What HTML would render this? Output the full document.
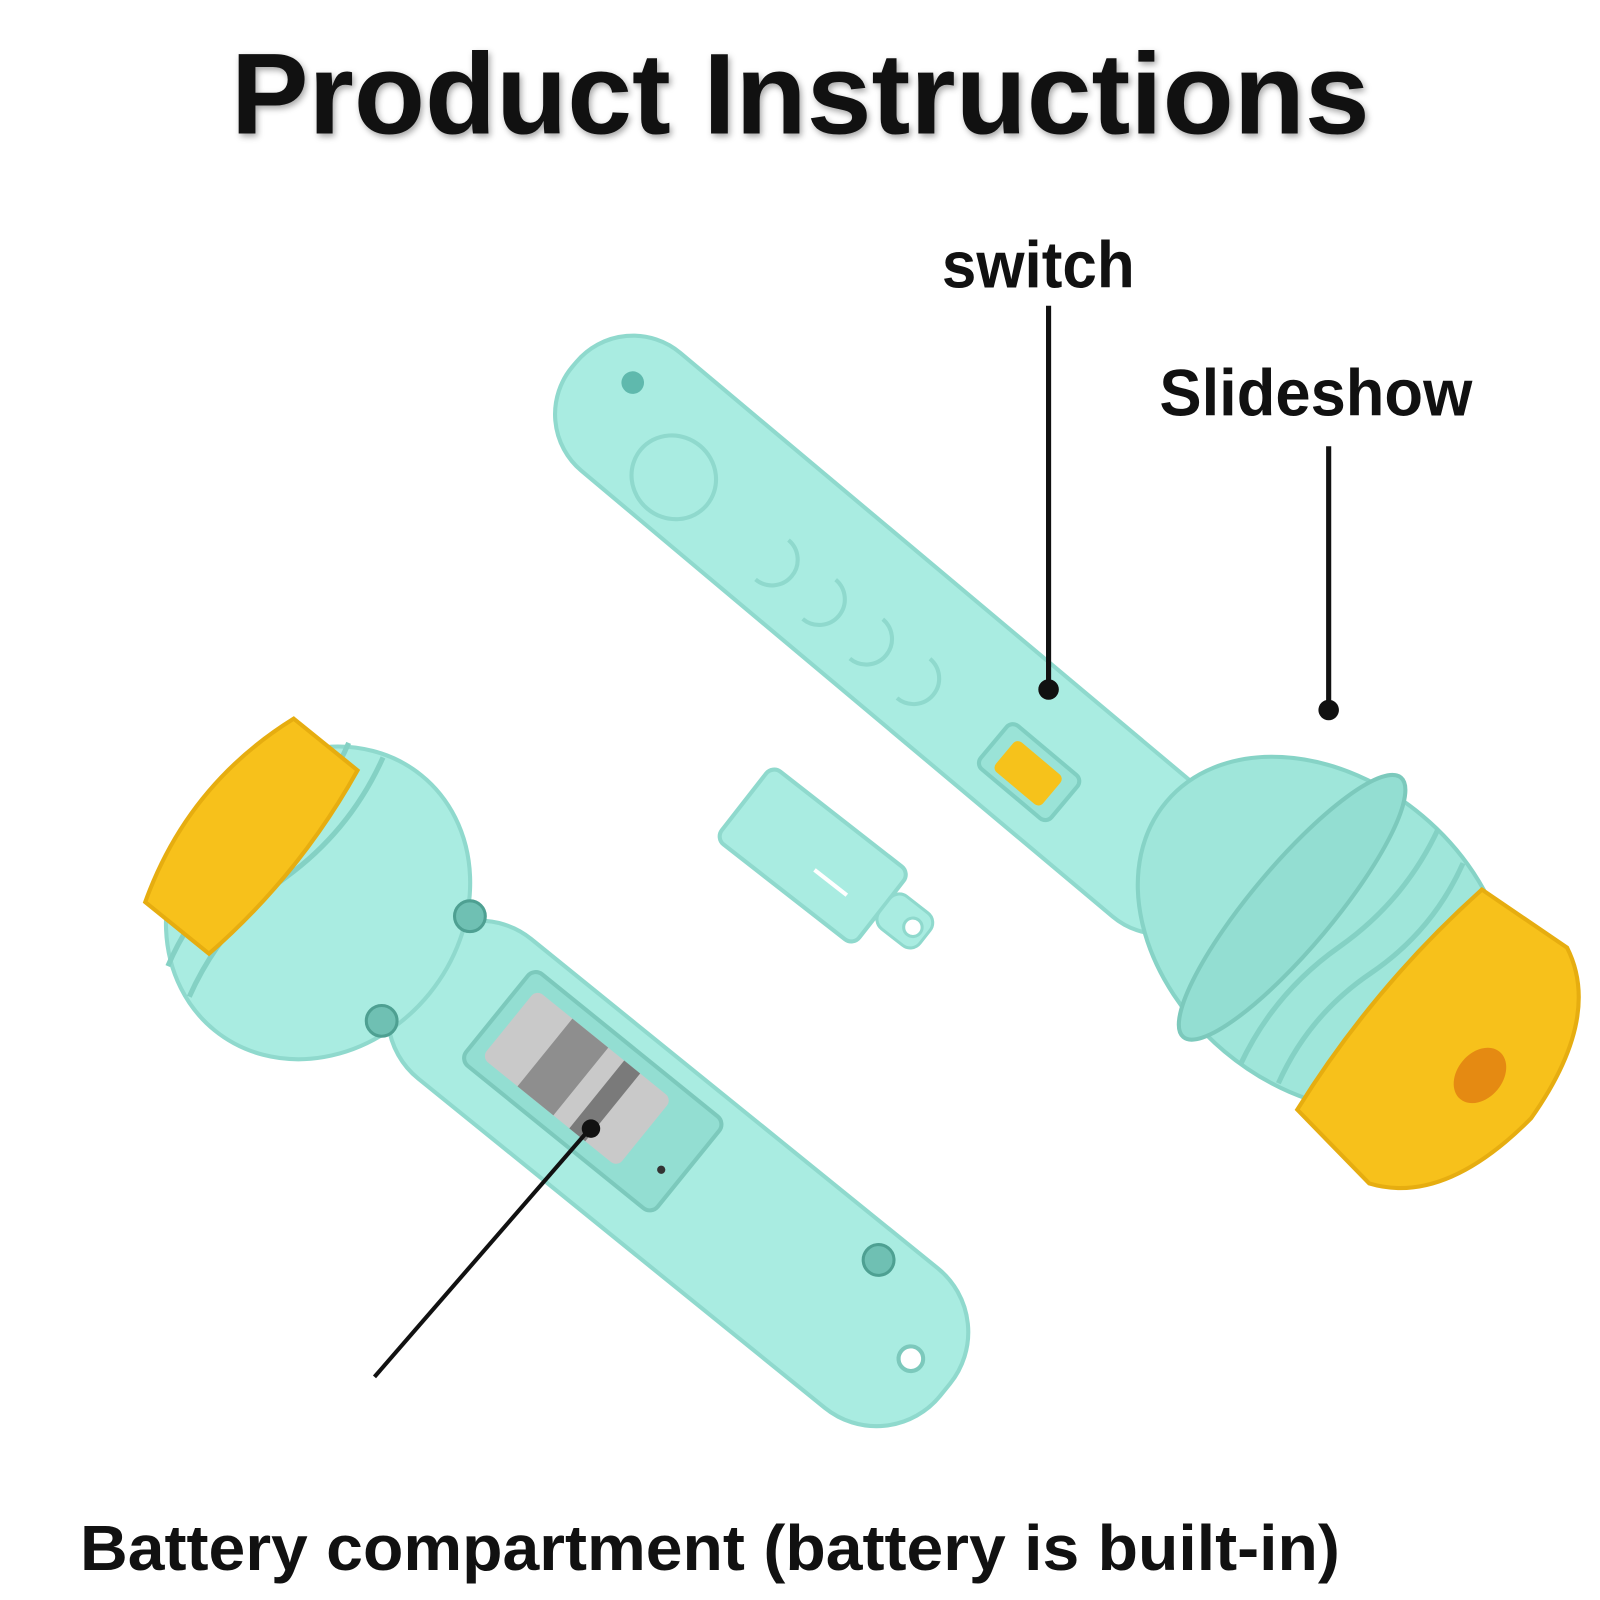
<!DOCTYPE html>
<html><head><meta charset="utf-8"><style>
html,body{margin:0;padding:0;background:#fff;}
svg{display:block}
text{font-family:"Liberation Sans","DejaVu Sans",sans-serif;font-weight:bold;fill:#111}
</style></head><body>
<svg width="1600" height="1600" viewBox="0 0 1600 1600" xmlns="http://www.w3.org/2000/svg">
<rect width="1600" height="1600" fill="#fff"/>
<g transform="scale(1.026)">
<text x="780" y="130" font-size="112" text-anchor="middle" textLength="1110" lengthAdjust="spacingAndGlyphs" style="filter:drop-shadow(2px 3px 3px rgba(0,0,0,.35))">Product Instructions</text>

<!-- Right flashlight body -->
<g transform="translate(600,385) rotate(40)">
  <rect x="-50" y="-72" width="820" height="150" rx="72" fill="#a9ece1" stroke="#8fd9cd" stroke-width="4"/>
  <circle cx="5" cy="-20" r="11" fill="#5fb9ad"/>
  <ellipse cx="95" cy="25" rx="42" ry="40" fill="none" stroke="#8fd9cd" stroke-width="4"/>
  <g fill="none" stroke="#8fd9cd" stroke-width="4">
    <path d="M220 0 a25 25 0 0 1 0 50"/><path d="M280 0 a25 25 0 0 1 0 50"/>
    <path d="M340 0 a25 25 0 0 1 0 50"/><path d="M400 0 a25 25 0 0 1 0 50"/>
  </g>
  <rect x="500" y="-5" width="90" height="55" rx="8" fill="#9ae3d7" stroke="#80cfc2" stroke-width="4"/>
  <rect x="515" y="5" width="60" height="38" rx="6" fill="#f6c21b"/>
</g>
<!-- Right head -->
<g transform="translate(1290,910) rotate(40)">
  <ellipse cx="0" cy="0" rx="200" ry="150" fill="#9fe6da" stroke="#86d3c6" stroke-width="4"/>
  <ellipse cx="-40" cy="0" rx="40" ry="165" fill="#93ded2" stroke="#7cc9bc" stroke-width="4"/>
  <g fill="none" stroke="#84d1c4" stroke-width="5">
    <path d="M20 -150 q20 75 0 150 q-20 75 0 150"/>
    <path d="M60 -140 q20 70 0 140 q-20 70 0 140"/>
    <path d="M100 -125 q20 62 0 125 q-20 62 0 125"/>
  </g>
</g>
<g transform="translate(1385,1000) rotate(40)">
  <path d="M-40 -140 L60 -150 Q130 -120 140 0 Q130 120 60 150 L-40 140 Q-60 0 -40 -140Z" fill="#f7c11b" stroke="#e6ad10" stroke-width="4"/>
  <ellipse cx="75" cy="0" rx="22" ry="30" fill="#e58a12"/>
</g>

<!-- Clip piece -->
<g transform="translate(800,840) rotate(38)">
  <rect x="-95" y="-45" width="170" height="90" rx="10" fill="#a9ece1" stroke="#8fd9cd" stroke-width="4"/>
  <line x1="0" y1="10" x2="40" y2="10" stroke="#fff" stroke-width="4"/>
  <rect x="75" y="-25" width="50" height="40" rx="12" fill="#a9ece1" stroke="#8fd9cd" stroke-width="3"/>
  <circle cx="110" cy="-5" r="9" fill="#fff" stroke="#8fd9cd" stroke-width="3"/>
</g>

<!-- Left flashlight body -->
<g transform="translate(430,960) rotate(39)">
  <rect x="-40" y="-90" width="670" height="175" rx="80" fill="#a9ece1" stroke="#8fd9cd" stroke-width="4"/>
  <rect x="60" y="-70" width="240" height="115" rx="10" fill="#93ded2" stroke="#7cc9bc" stroke-width="4"/>
  <rect x="75" y="-55" width="170" height="85" rx="8" fill="#c9c9c9"/>
  <rect x="120" y="-55" width="45" height="85" fill="#8e8e8e"/>
  <rect x="185" y="-55" width="20" height="85" fill="#7a7a7a"/>
  <circle cx="280" cy="5" r="4" fill="#333"/>
  <circle cx="585" cy="-5" r="12" fill="#fff" stroke="#7cc9bc" stroke-width="4"/>
  <circle cx="500" cy="-60" r="15" fill="#6fc0b3" stroke="#4ea092" stroke-width="3"/>
</g>
<!-- Left head -->
<g transform="translate(310,880) rotate(39)">
  <ellipse cx="0" cy="0" rx="140" ry="160" fill="#a9ece1" stroke="#8fd9cd" stroke-width="4"/>
  <g fill="none" stroke="#84d1c4" stroke-width="5">
    <path d="M-40 -150 q20 75 0 150 q-20 75 0 150"/>
    <path d="M-75 -140 q20 70 0 140 q-20 70 0 140"/>
  </g>
</g>
<circle cx="458" cy="893" r="15" fill="#6fc0b3" stroke="#4ea092" stroke-width="3"/>
<circle cx="372" cy="995" r="15" fill="#6fc0b3" stroke="#4ea092" stroke-width="3"/>
<g transform="translate(245,815) rotate(39)">
  <path d="M-40 -115 L40 -115 Q60 0 40 115 L-40 115 Q-80 0 -40 -115Z" fill="#f7c11b" stroke="#e6ad10" stroke-width="4"/>
</g>

<!-- Leader lines -->
<line x1="1022" y1="298" x2="1022" y2="668" stroke="#111" stroke-width="5"/>
<circle cx="1022" cy="672" r="10" fill="#111"/>
<line x1="1295" y1="435" x2="1295" y2="690" stroke="#111" stroke-width="5"/>
<circle cx="1295" cy="692" r="10" fill="#111"/>
<line x1="365" y1="1342" x2="575" y2="1100" stroke="#111" stroke-width="4"/>
<circle cx="576" cy="1100" r="9" fill="#111"/>

<text x="918" y="280" font-size="64" textLength="188" lengthAdjust="spacingAndGlyphs">switch</text>
<text x="1130" y="405" font-size="64" textLength="305" lengthAdjust="spacingAndGlyphs">Slideshow</text>
<text x="78" y="1530" font-size="62" textLength="1228" lengthAdjust="spacingAndGlyphs">Battery compartment (battery is built-in)</text>
</g>
</svg>
</body></html>
